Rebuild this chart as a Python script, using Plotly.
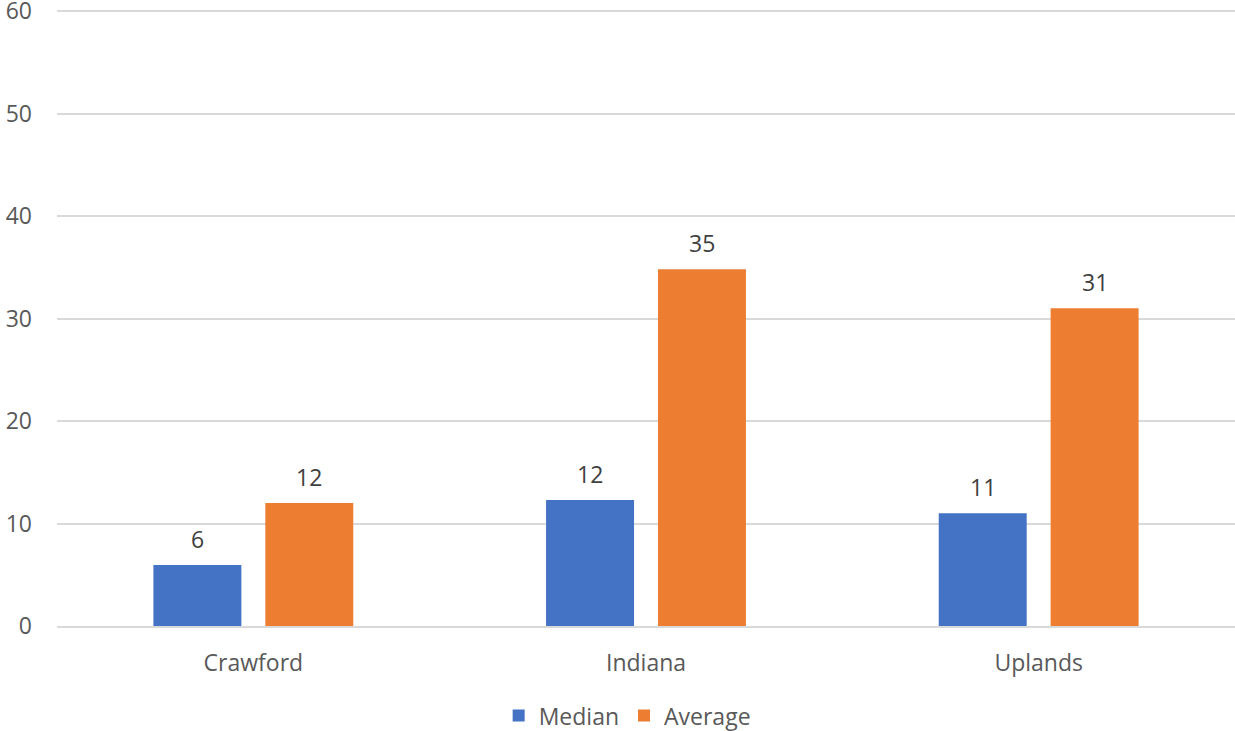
import plotly.graph_objects as go

categories = ["Crawford", "Indiana", "Uplands"]
median_values = [5.95, 12.3, 11.0]
average_values = [12.0, 34.8, 31.0]
median_labels = ["6", "12", "11"]
average_labels = ["12", "35", "31"]
y_ticks = [0, 10, 20, 30, 40, 50, 60]

FONT = "Open Sans"
FS = 23
TXT = "#595959"
fig = go.Figure()
fig.add_trace(go.Bar(name="Median", x=categories, y=median_values,
                     marker=dict(color="#4472C4", line=dict(width=0))))
fig.add_trace(go.Bar(name="Average", x=categories, y=average_values,
                     marker=dict(color="#ED7D31", line=dict(width=0))))

for vals, labels, shift in [(median_values, median_labels, -56), (average_values, average_labels, 56)]:
    for c, v, t in zip(categories, vals, labels):
        fig.add_annotation(x=c, y=v, text=t, showarrow=False, xshift=shift, yshift=8,
                           yanchor="bottom", font=dict(size=FS, color="#404040", family=FONT))

fig.update_layout(
    width=1235, height=731,
    barmode="group", bargap=0.43, bargroupgap=0.214,
    plot_bgcolor="white", paper_bgcolor="white",
    margin=dict(l=57, r=0, t=8, b=105, autoexpand=False),
    font=dict(family=FONT, size=FS, color=TXT),
    legend=dict(orientation="h", x=0.484, xanchor="center", y=-0.145, yanchor="middle",
                font=dict(size=FS, color=TXT), itemwidth=30, traceorder="normal"),
    xaxis=dict(showgrid=False, showline=True, linecolor="#D9D9D9", linewidth=1.5,
               ticks="", ticklabelstandoff=16, automargin=False,
               tickfont=dict(size=FS, color=TXT)),
    yaxis=dict(range=[0, 60.3], tickvals=y_ticks, showgrid=True, gridcolor="#D9D9D9",
               gridwidth=1.5, zeroline=False, showline=False, ticks="", automargin=False,
               ticklabelstandoff=24, ticklabeloverflow="allow",
               tickfont=dict(size=FS, color=TXT)),
)
fig.write_html("out.html", config={"displayModeBar": False},
               post_script="document.body.style.margin='0';document.body.style.overflow='hidden';")
